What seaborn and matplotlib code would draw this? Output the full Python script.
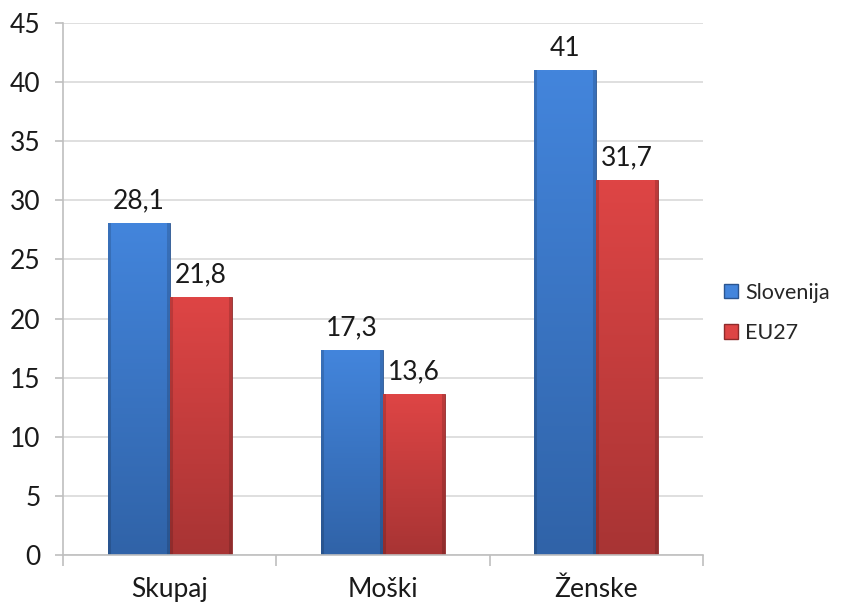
import numpy as np
import pandas as pd
import matplotlib
matplotlib.use("Agg")
import matplotlib.pyplot as plt
from matplotlib.colors import to_rgb
from matplotlib.patches import Patch
import seaborn as sns

# data
categories = ["Skupaj", "Moški", "Ženske"]
series_names = ["Slovenija", "EU27"]
slovenija = [28.1, 17.3, 41.0]
eu27 = [21.8, 13.6, 31.7]
y_ticks = [0, 5, 10, 15, 20, 25, 30, 35, 40, 45]

# colours: bottom (dark), top (light), edge
shades = {
    "Slovenija": ("#3063a8", "#4385dc", "#2a5590"),
    "EU27": ("#a83434", "#de4545", "#8f2b2b"),
}


def label(v):
    # decimal comma like the original
    if float(v).is_integer():
        return str(int(v))
    return str(v).replace(".", ",")


def bar_image(dark, light):
    # vertical gradient, a bit darker at the left/right edges
    d = np.array(to_rgb(dark))
    l = np.array(to_rgb(light))
    t = np.linspace(0, 1, 120)[:, None, None]
    img = d + (l - d) * t
    img = np.repeat(img, 60, axis=1)
    xs = np.linspace(0, 1, 60)
    shade = np.where((xs < 0.05) | (xs > 0.95), 0.85, 1.0)
    return np.clip(img * shade[None, :, None], 0, 1)


df = pd.DataFrame({
    "kategorija": categories * 2,
    "serija": [series_names[0]] * 3 + [series_names[1]] * 3,
    "vrednost": slovenija + eu27,
})

sns.set_style("white")
plt.rcParams["font.family"] = ["Lato", "DejaVu Sans"]

fig = plt.figure(figsize=(8.44, 6.11), dpi=100)
ax = fig.add_axes([0.0746, 0.0917, 0.7584, 0.8705])

sns.barplot(data=df, x="kategorija", y="vrednost", hue="serija",
            order=categories, hue_order=series_names, width=0.58,
            palette=[shades[s][1] for s in series_names],
            legend=False, ax=ax, zorder=2)

for cont, name in zip(ax.containers, series_names):
    dark, light, edge = shades[name]
    img = bar_image(dark, light)
    for bar in cont:
        x0, y0 = bar.get_x(), bar.get_y()
        w, h = bar.get_width(), bar.get_height()
        bar.set_edgecolor(edge)
        bar.set_linewidth(0.6)
        im = ax.imshow(img, aspect="auto", origin="lower",
                       extent=[x0, x0 + w, y0, y0 + h], zorder=2.1)
        im.set_clip_path(bar)
    ax.bar_label(cont, labels=[label(b.get_height()) for b in cont],
                 padding=7, fontsize=19, color="#1a1a1a")

ax.set_xlim(-0.5, 2.5)
ax.set_ylim(0, 45)
ax.set_yticks(y_ticks)
ax.set_xticks(range(len(categories)))
ax.set_xticklabels(categories)
ax.set_xticks([-0.5, 0.5, 1.5, 2.5], minor=True)
ax.set_xlabel("")
ax.set_ylabel("")

ax.yaxis.grid(True, color="#d9d9d9", linewidth=1.2, zorder=0)
ax.set_axisbelow(True)
for side in ["top", "right"]:
    ax.spines[side].set_visible(False)
for side in ["left", "bottom"]:
    ax.spines[side].set_color("#bfbfbf")
    ax.spines[side].set_linewidth(1.2)

ax.tick_params(axis="y", left=True, length=6, width=1.2, color="#bfbfbf",
               pad=10, labelsize=19, labelcolor="#1a1a1a")
ax.tick_params(axis="x", which="major", bottom=False, length=0, pad=16,
               labelsize=19, labelcolor="#1a1a1a")
ax.tick_params(axis="x", which="minor", bottom=True, length=8, width=1.2,
               color="#bfbfbf")

handles = [Patch(facecolor=shades[s][1], edgecolor=shades[s][2], label=s)
           for s in series_names]
ax.legend(handles=handles, loc="center left", bbox_to_anchor=(1.02, 0.455),
          frameon=False, fontsize=15.5, handlelength=0.65, handleheight=0.65,
          handletextpad=0.3, labelspacing=0.95, borderaxespad=0)

fig.savefig("out.png", dpi=100)
